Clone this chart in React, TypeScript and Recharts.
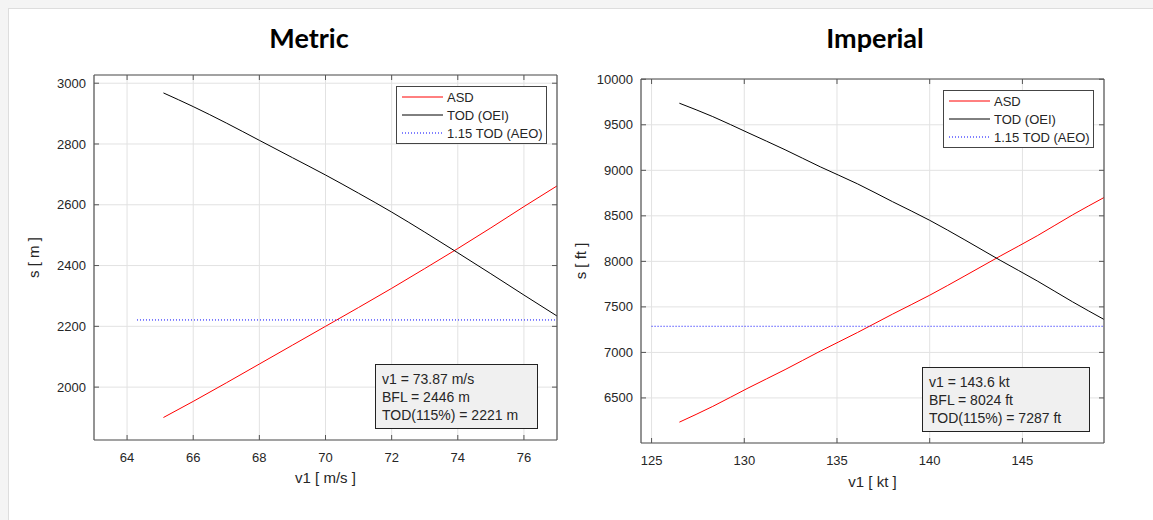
import { LineChart, Line, XAxis, YAxis, CartesianGrid } from "recharts";

// metric (m/s, m)
const metricV = [65.1, 66, 67, 68, 69, 70, 71, 72, 73, 74, 75, 76, 77];
const metricAsd = [1900, 1953, 2014, 2076, 2138, 2200, 2262, 2325, 2390, 2456, 2524, 2594, 2662];
const metricTod = [2968, 2923, 2869, 2812, 2755, 2698, 2638, 2576, 2510, 2442, 2373, 2303, 2234];
const metricAeoV = [64.3, 77];
const metricAeo = [2221, 2221];
const metricXTicks = [64, 66, 68, 70, 72, 74, 76];
const metricYTicks = [2000, 2200, 2400, 2600, 2800, 3000];
const metricNotes = ["v1 = 73.87 m/s", "BFL = 2446 m", "TOD(115%) = 2221 m"];

// imperial (kt, ft)
const imperialV = [126.5, 128.3, 130.2, 132.2, 134.1, 136.1, 138.0, 140.0, 141.9, 143.8, 145.8, 147.7, 149.4];
const imperialAsd = [6234, 6407, 6608, 6811, 7014, 7218, 7421, 7628, 7841, 8058, 8281, 8510, 8701];
const imperialTod = [9737, 9590, 9413, 9226, 9038, 8852, 8655, 8451, 8235, 8012, 7785, 7556, 7362];
const imperialAeoV = [125.0, 149.4];
const imperialAeo = [7287, 7287];
const imperialXTicks = [125, 130, 135, 140, 145];
const imperialYTicks = [6500, 7000, 7500, 8000, 8500, 9000, 9500, 10000];
const imperialNotes = ["v1 = 143.6 kt", "BFL = 8024 ft", "TOD(115%) = 7287 ft"];

const legendNames = ["ASD", "TOD (OEI)", "1.15 TOD (AEO)"];

const FONT = "'Liberation Sans', Arial, Helvetica, sans-serif";
const AXIS = "#555555";
const TXT = "#262626";
const GRID = "#e2e2e2";

const toPts = (xs: number[], ys: number[]) => xs.map((v, i) => ({ v, s: ys[i] }));

const BottomTick = ({ x, y, payload }: any) => (
  <g>
    <line x1={x} y1={y} x2={x} y2={y - 5} stroke={AXIS} />
    <text x={x} y={y + 22} textAnchor="middle" fontSize={13} fill={TXT} fontFamily={FONT}>
      {payload.value}
    </text>
  </g>
);
const TopTick = ({ x, y }: any) => <line x1={x} y1={y} x2={x} y2={y + 5} stroke={AXIS} />;
const LeftTick = ({ x, y, payload }: any) => (
  <g>
    <line x1={x} y1={y} x2={x + 5} y2={y} stroke={AXIS} />
    <text x={x - 8} y={y} dy="0.35em" textAnchor="end" fontSize={13} fill={TXT} fontFamily={FONT}>
      {payload.value}
    </text>
  </g>
);
const RightTick = ({ x, y }: any) => <line x1={x} y1={y} x2={x - 5} y2={y} stroke={AXIS} />;

type PanelProps = {
  left: number;
  width: number;
  margin: { top: number; right: number; bottom: number; left: number };
  xDomain: [number, number];
  yDomain: [number, number];
  xTicks: number[];
  yTicks: number[];
  asd: { v: number; s: number }[];
  tod: { v: number; s: number }[];
  aeo: { v: number; s: number }[];
  xLabel: string;
  yLabel: string;
  xLabelOffset: number;
  yLabelOffset: number;
};

function Panel(p: PanelProps) {
  return (
    <div style={{ position: "absolute", left: p.left, top: 0 }}>
      <LineChart width={p.width} height={520} margin={p.margin}>
        <CartesianGrid stroke={GRID} />
        <XAxis
          dataKey="v"
          type="number"
          domain={p.xDomain}
          ticks={p.xTicks}
          allowDataOverflow
          height={45}
          tickSize={0}
          tickMargin={0}
          tickLine={false}
          tick={BottomTick}
          axisLine={{ stroke: AXIS, strokeWidth: 1.2 }}
          label={{
            value: p.xLabel,
            position: "insideBottom",
            offset: p.xLabelOffset,
            style: { fontSize: 15, fill: TXT, fontFamily: FONT },
          }}
        />
        <XAxis
          xAxisId="top"
          orientation="top"
          dataKey="v"
          type="number"
          domain={p.xDomain}
          ticks={p.xTicks}
          allowDataOverflow
          height={10}
          tickSize={0}
          tickMargin={0}
          tickLine={false}
          tick={TopTick}
          axisLine={{ stroke: AXIS, strokeWidth: 1.2 }}
        />
        <YAxis
          type="number"
          domain={p.yDomain}
          ticks={p.yTicks}
          allowDataOverflow
          width={60}
          tickSize={0}
          tickMargin={0}
          tickLine={false}
          tick={LeftTick}
          axisLine={{ stroke: AXIS, strokeWidth: 1.2 }}
          label={{
            value: p.yLabel,
            angle: -90,
            position: "insideLeft",
            offset: p.yLabelOffset,
            style: { textAnchor: "middle", fontSize: 15, fill: TXT, fontFamily: FONT },
          }}
        />
        <YAxis
          yAxisId="right"
          orientation="right"
          type="number"
          domain={p.yDomain}
          ticks={p.yTicks}
          allowDataOverflow
          width={10}
          tickSize={0}
          tickMargin={0}
          tickLine={false}
          tick={RightTick}
          axisLine={{ stroke: AXIS, strokeWidth: 1.2 }}
        />
        <Line data={p.asd} type="monotone" dataKey="s" stroke="#ff0000" strokeWidth={1} dot={false} isAnimationActive={false} />
        <Line data={p.tod} type="monotone" dataKey="s" stroke="#000000" strokeWidth={1} dot={false} isAnimationActive={false} />
        <Line
          data={p.aeo}
          dataKey="s"
          stroke="#0000ff"
          strokeWidth={1}
          strokeDasharray="1 2"
          dot={false}
          isAnimationActive={false}
        />
      </LineChart>
    </div>
  );
}

function LegendBox({ x, y }: { x: number; y: number }) {
  const colors = ["#ff0000", "#000000", "#0000ff"];
  return (
    <svg style={{ position: "absolute", left: x, top: y }} width={152} height={59}>
      <rect x={0.5} y={0.5} width={150} height={57} fill="#fff" stroke="#444" strokeWidth={1} />
      {legendNames.map((n, i) => (
        <g key={n}>
          <line
            x1={6}
            x2={47}
            y1={11 + i * 18}
            y2={11 + i * 18}
            stroke={colors[i]}
            strokeWidth={1}
            strokeDasharray={i === 2 ? "1 2" : undefined}
          />
          <text x={51} y={11 + i * 18} dy="0.35em" fontSize={13} fill={TXT} fontFamily={FONT}>
            {n}
          </text>
        </g>
      ))}
    </svg>
  );
}

function NoteBox({ x, y, w, lines }: { x: number; y: number; w: number; lines: string[] }) {
  return (
    <svg style={{ position: "absolute", left: x, top: y }} width={w + 2} height={67}>
      <rect x={0.5} y={0.5} width={w} height={64} fill="#f0f0f0" stroke="#222" strokeWidth={1} />
      {lines.map((t, i) => (
        <text key={t} x={7} y={15 + i * 18} dy="0.35em" fontSize={14} fill={TXT} fontFamily={FONT}>
          {t}
        </text>
      ))}
    </svg>
  );
}

const titleStyle = (cx: number): React.CSSProperties => ({
  position: "absolute",
  left: cx - 100,
  width: 200,
  top: 18,
  height: 34,
  overflow: "hidden",
  textAlign: "center",
  fontFamily: "Lato, 'Open Sans', sans-serif",
  fontWeight: 700,
  fontSize: 27,
  lineHeight: "40px",
  color: "#000",
});

export default function App() {
  return (
    <div style={{ position: "absolute", left: 0, top: 0, width: 1153, height: 520, background: "#f4f4f4", overflow: "hidden" }}>
      <div
        style={{
          position: "absolute",
          left: 8,
          top: 8,
          width: 1160,
          height: 520,
          background: "#fff",
          border: "1px solid #dddddd",
        }}
      />
      <Panel
        left={0}
        width={580}
        margin={{ top: 65, right: 13, bottom: 35, left: 34 }}
        xDomain={[63, 77]}
        yDomain={[1826, 3027]}
        xTicks={metricXTicks}
        yTicks={metricYTicks}
        asd={toPts(metricV, metricAsd)}
        tod={toPts(metricV, metricTod)}
        aeo={toPts(metricAeoV, metricAeo)}
        xLabel="v1 [ m/s ]"
        yLabel="s [ m ]"
        xLabelOffset={2.5}
        yLabelOffset={0}
      />
      <Panel
        left={570}
        width={583}
        margin={{ top: 69, right: 39, bottom: 32, left: 11 }}
        xDomain={[124.43, 149.4]}
        yDomain={[6005, 10003]}
        xTicks={imperialXTicks}
        yTicks={imperialYTicks}
        asd={toPts(imperialV, imperialAsd)}
        tod={toPts(imperialV, imperialTod)}
        aeo={toPts(imperialAeoV, imperialAeo)}
        xLabel="v1 [ kt ]"
        yLabel="s [ ft ]"
        xLabelOffset={1.5}
        yLabelOffset={0}
      />
      <LegendBox x={396} y={86} />
      <LegendBox x={943} y={90} />
      <NoteBox x={375} y={364} w={162} lines={metricNotes} />
      <NoteBox x={922} y={367} w={167} lines={imperialNotes} />
      <div style={titleStyle(309)}>Metric</div>
      <div style={titleStyle(875)}>Imperial</div>
    </div>
  );
}
